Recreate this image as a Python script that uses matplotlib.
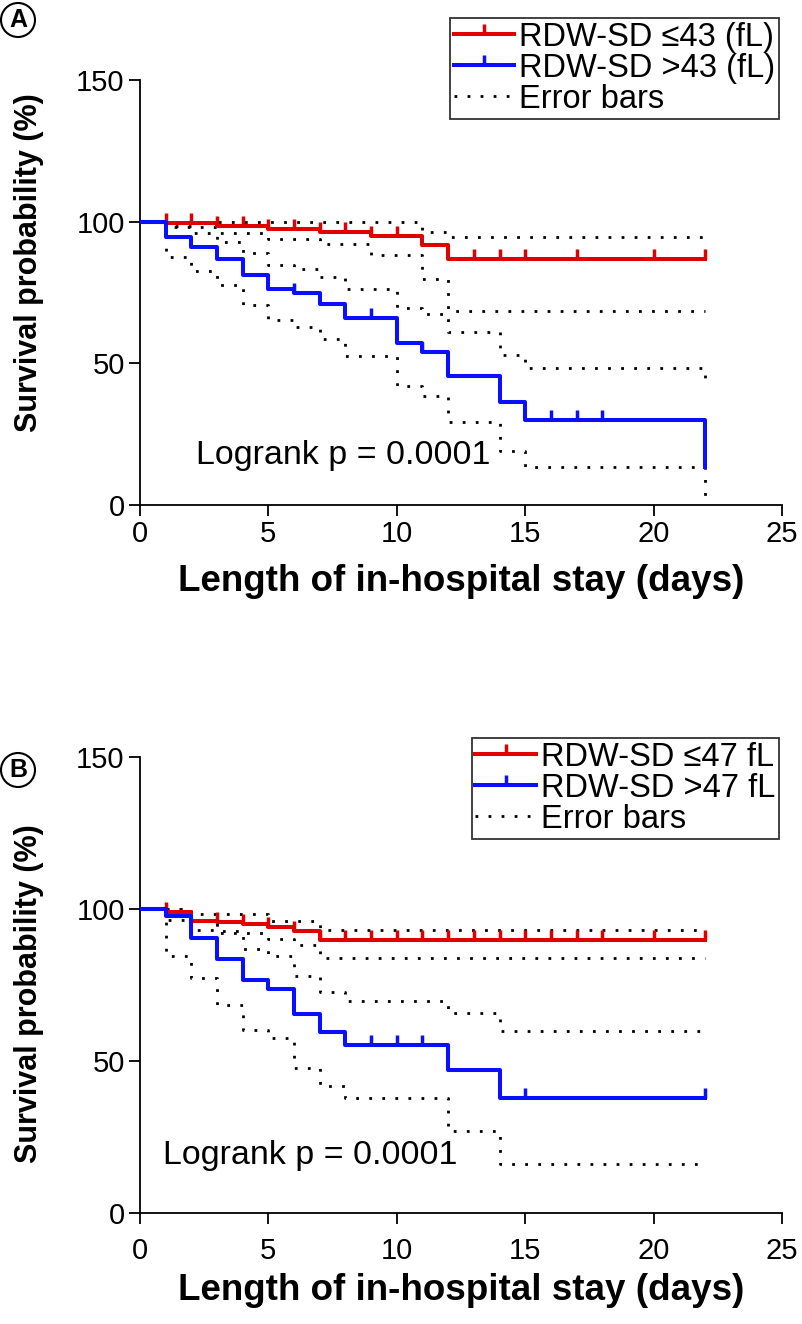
import numpy as np
import matplotlib
matplotlib.use("Agg")
import matplotlib.pyplot as plt
from matplotlib.lines import Line2D

plt.rcParams['font.family'] = ['Liberation Sans', 'DejaVu Sans']

# ---------------- Panel A data ----------------
red_days_A = [0, 1, 3, 5, 7, 9, 11, 12, 22]
red_surv_A = [100, 99.5, 98.6, 97.4, 96.5, 94.9, 91.6, 86.7, 86.7]
red_cens_A = [1, 2, 3, 4, 5, 6, 7, 8, 9, 10, 13, 14, 15, 17, 20, 22]
red_hi_days_A = [0, 11, 12, 22]
red_hi_A = [100, 96.5, 94.5, 94.5]
red_lo_days_A = [0, 1, 3, 5, 7, 9, 11, 12, 22]
red_lo_A = [100, 98.0, 96.0, 93.9, 92.2, 88.1, 79.9, 68.3, 68.3]

blue_days_A = [0, 1, 2, 3, 4, 5, 6, 7, 8, 10, 11, 12, 14, 15, 22]
blue_surv_A = [100, 94.5, 91.0, 86.7, 81.1, 76.4, 74.7, 70.8, 65.9, 57.1, 54.0, 45.5, 36.4, 30.0, 13.4]
blue_cens_A = [6, 9, 11, 16, 17, 18]
blue_hi_A = [100, 98.6, 95.9, 92.8, 88.8, 84.8, 83.4, 80.3, 76.4, 69.7, 67.3, 61.2, 53.1, 48.2, 43.7]
blue_lo_A = [100, 87.5, 82.6, 77.6, 70.6, 65.3, 63.0, 58.5, 52.5, 42.0, 38.5, 29.2, 19.2, 13.4, 3.0]

labels_A = ["RDW-SD \u226443 (fL)", "RDW-SD >43 (fL)", "Error bars"]

# ---------------- Panel B data ----------------
red_days_B = [0, 1, 2, 3, 4, 5, 6, 7, 22]
red_surv_B = [100, 98.9, 96.1, 95.8, 95.2, 94.2, 92.9, 89.7, 89.7]
red_cens_B = [1, 3, 4, 5, 6, 7, 8, 9, 10, 11, 12, 13, 14, 15, 16, 17, 18, 20, 22]
red_hi_days_B = [0, 2, 5, 7, 22]
red_hi_B = [100, 98.5, 96.0, 93.2, 93.2]
red_lo_days_B = [0, 1, 2, 3, 5, 6, 7, 22]
red_lo_B = [100, 96.5, 93.2, 92.1, 90.1, 88.2, 84.0, 84.0]

blue_days_B = [0, 1, 2, 3, 4, 5, 6, 7, 8, 12, 14, 22]
blue_surv_B = [100, 97.6, 90.4, 83.5, 76.7, 73.6, 65.3, 59.5, 55.4, 47.2, 37.8, 37.8]
blue_cens_B = [9, 10, 11, 15, 22]
blue_hi_B = [100, 100, 96.5, 92.6, 86.8, 84.4, 77.8, 72.6, 69.7, 65.9, 59.8, 59.8]
blue_lo_B = [100, 84.4, 77.2, 68.3, 60.2, 57.6, 47.8, 41.7, 37.8, 27.0, 16.0, 16.0]

labels_B = ["RDW-SD \u226447 fL", "RDW-SD >47 fL", "Error bars"]

x_ticks = [0, 5, 10, 15, 20, 25]
y_ticks = [0, 50, 100, 150]
logrank_text = "Logrank p = 0.0001"

RED = '#e00000'
BLUE = '#0a10ff'
W, H = 803, 1324

fig = plt.figure(figsize=(W / 100, H / 100), dpi=100)


def rect(left, right, top, bottom):
    return [left / W, 1 - bottom / H, (right - left) / W, (bottom - top) / H]


def level_at(days, surv, t):
    days = np.asarray(days)
    surv = np.asarray(surv)
    idx = np.searchsorted(days, t, side='right') - 1
    return surv[idx]


DOT = (0, (1, 3.7))


def panel(ax, red_days, red_surv, red_cens, red_hi_days, red_hi, red_lo_days, red_lo,
          blue_days, blue_surv, blue_cens, blue_hi, blue_lo, labels, text_xy, leg_anchor,
          xpad, xlabelpad, ylabel_y):
    for d, v in [(red_hi_days, red_hi), (red_lo_days, red_lo),
                 (blue_days, blue_hi), (blue_days, blue_lo)]:
        ax.step(d, v, where='post', color='black', lw=2.0, linestyle=DOT, zorder=2)
    ax.step(red_days, red_surv, where='post', color=RED, lw=2.9, zorder=3)
    ax.plot(red_cens, level_at(red_days, red_surv, red_cens), linestyle='none',
            marker=2, ms=7, mew=2.5, color=RED, zorder=3)
    ax.step(blue_days, blue_surv, where='post', color=BLUE, lw=2.9, zorder=4)
    ax.plot(blue_cens, level_at(blue_days, blue_surv, blue_cens), linestyle='none',
            marker=2, ms=7, mew=2.5, color=BLUE, zorder=4)

    ax.set_xlim(0, 25)
    ax.set_ylim(0, 150)
    ax.set_xticks(x_ticks)
    ax.set_yticks(y_ticks)
    for s in ['top', 'right']:
        ax.spines[s].set_visible(False)
    for s in ['left', 'bottom']:
        ax.spines[s].set_linewidth(1.3)
    ax.tick_params(direction='out', length=8, width=1.3, labelsize=21, pad=3)
    ax.tick_params(axis='x', pad=xpad)
    ax.set_xlabel("Length of in-hospital stay (days)", fontsize=26.5, fontweight='bold',
                  labelpad=xlabelpad)
    ax.set_ylabel("Survival probability (%)", fontsize=22, fontweight='bold')
    ax.yaxis.set_label_coords(-0.15, ylabel_y)
    ax.text(text_xy[0], text_xy[1], logrank_text, fontsize=24.5, ha='left', va='center')

    handles = [Line2D([], [], color=RED, lw=2.9, marker=2, ms=7, mew=2.5),
               Line2D([], [], color=BLUE, lw=2.9, marker=2, ms=7, mew=2.5),
               Line2D([], [], color='black', lw=2.0, linestyle=DOT)]
    leg = ax.legend(handles, labels, loc='upper right', bbox_to_anchor=leg_anchor,
                    bbox_transform=fig.transFigure, frameon=True, fancybox=False,
                    edgecolor='black', borderaxespad=0, handlelength=1.85,
                    handletextpad=0.15, borderpad=0.12, labelspacing=0.0,
                    fontsize=23.5, numpoints=1)
    leg.get_frame().set_linewidth(1.3)


axA = fig.add_axes(rect(140, 782, 80, 505))
panel(axA, red_days_A, red_surv_A, red_cens_A, red_hi_days_A, red_hi_A, red_lo_days_A, red_lo_A,
      blue_days_A, blue_surv_A, blue_cens_A, blue_hi_A, blue_lo_A, labels_A,
      (2.2, 17.5), (779 / W, 1 - 18 / H), 3, 11, 0.57)

axB = fig.add_axes(rect(140, 782, 757, 1213))
panel(axB, red_days_B, red_surv_B, red_cens_B, red_hi_days_B, red_hi_B, red_lo_days_B, red_lo_B,
      blue_days_B, blue_surv_B, blue_cens_B, blue_hi_B, blue_lo_B, labels_B,
      (0.9, 19.0), (779 / W, 1 - 738 / H), 9, 6, 0.48)

for letter, ypix in [("A", 20), ("B", 770)]:
    fig.text(18 / W, 1 - ypix / H, letter, fontsize=18, fontweight='bold', ha='center', va='center',
             bbox=dict(boxstyle='circle,pad=0.2', fc='white', ec='black', lw=1.5))

fig.savefig("out.png", dpi=100)
